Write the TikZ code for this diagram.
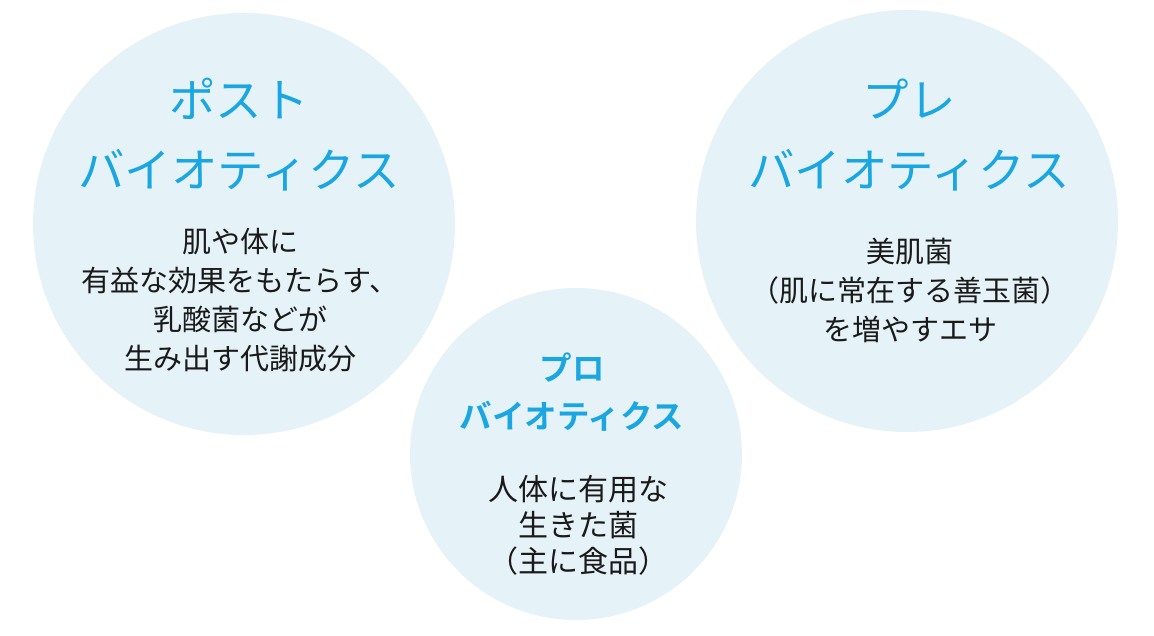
\documentclass[tikz,border=0pt]{standalone}
\usepackage{fontspec}
\newfontfamily\jp{Noto Sans CJK JP}
\newfontfamily\jpbold{Noto Sans CJK JP Bold}
\definecolor{circfill}{HTML}{E5F2F7}
\definecolor{titleblue}{HTML}{1AA6E3}
\definecolor{bodytext}{HTML}{1A1A1A}
\tikzset{
  bubble/.style={circle, fill=circfill, draw=none, inner sep=0pt},
  bigtitle/.style={align=center, inner sep=0pt, text=titleblue, font=\jp\fontsize{46.5}{70}\selectfont},
  smalltitle/.style={align=center, inner sep=0pt, text=titleblue, font=\jpbold\fontsize{32.5}{48}\selectfont},
  bodybig/.style={align=center, inner sep=0pt, text=bodytext, font=\jp\fontsize{29}{39}\selectfont},
  bodysmall/.style={align=center, inner sep=0pt, text=bodytext, font=\jp\fontsize{30}{36}\selectfont}
}
\begin{document}
\begin{tikzpicture}[x=1pt,y=1pt]
\useasboundingbox (0,0) rectangle (1154,636);
\fill[white] (0,0) rectangle (1154,636);
\node[bubble, minimum size=422pt] (post) at (244,412) {};
\node[bubble, minimum size=422pt] (pre) at (907,415) {};
\node[bubble, minimum size=332pt] (pro) at (576,182) {};

\node[bigtitle] (posttitle) at (239,501) {ポスト\\バイオティクス};
\node[bodybig] (postbody) at (240,336) {肌や体に\\有益な効果をもたらす、\\乳酸菌などが\\生み出す代謝成分};

\node[bigtitle] (pretitle) at (909,501) {プレ\\バイオティクス};
\node[bodybig] (prebody) at (910,346) {美肌菌\\（肌に常在する善玉菌）\\を増やすエサ};

\node[smalltitle] (protitle) at (572,244) {プロ\\バイオティクス};
\node[bodysmall] (probody) at (578,111) {人体に有用な\\生きた菌\\（主に食品）};
\end{tikzpicture}
\end{document}
